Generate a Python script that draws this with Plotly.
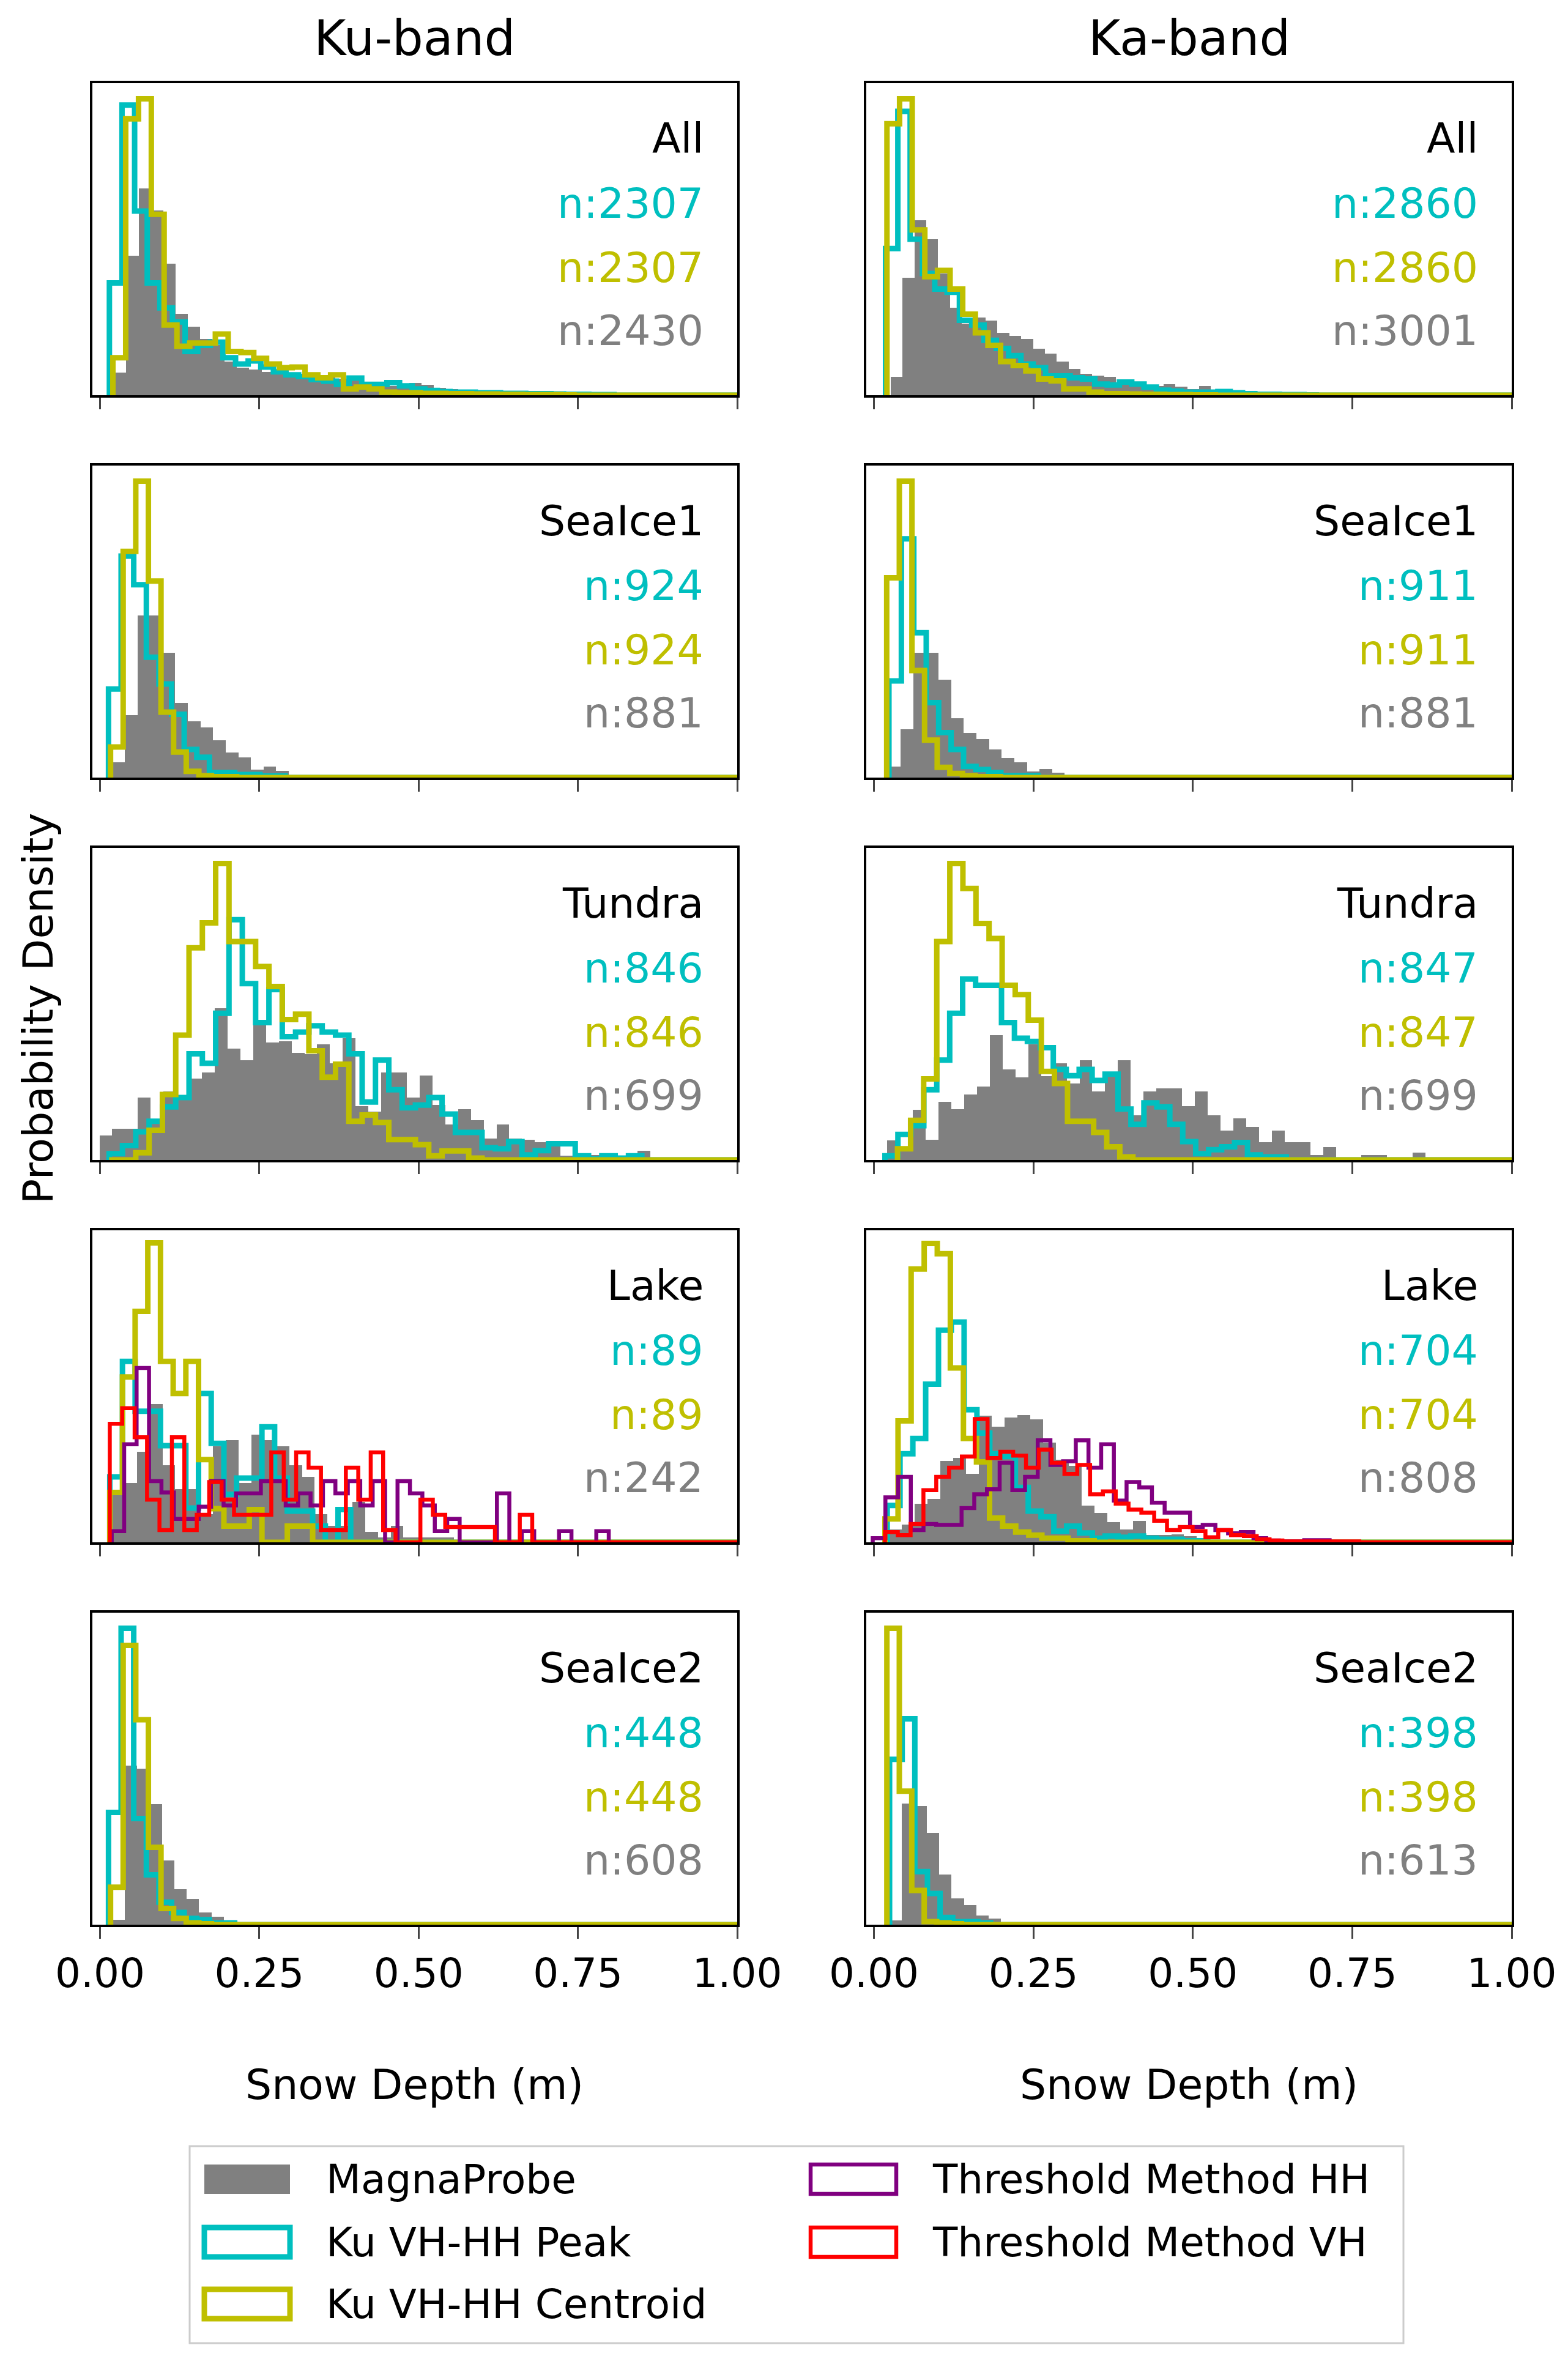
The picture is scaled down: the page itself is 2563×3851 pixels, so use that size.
import math
import plotly.graph_objects as go

# ---------------------------------------------------------------------------
# Histogram data: (first bin edge, bin width) and bin heights (relative density)
# ---------------------------------------------------------------------------
KU_ALL_GRAY_BINS = (0.0219, 0.0193)
KU_ALL_GRAY = [7.2, 44.8, 66.3, 59.2, 42.2, 26, 22, 18, 16, 10.8, 8.8, 8.2, 7.5, 7.2, 6.9, 6.5, 6.2,
               5.6, 5.2, 5, 4, 3.3, 3, 3.6, 3.9, 3.3, 2.3, 2, 1.8, 1.6, 1.3, 1.2, 1, 1, 0.8, 0.7,
               0.6, 0.6, 0.5, 0.4, 0.3, 0.3, 0.2, 0.2, 0.2, 0.1]
KU_ALL_PEAK_BINS = (0.0147, 0.0198)
KU_ALL_PEAK = [36, 93, 59, 36, 28, 23.5, 14, 16, 17, 12, 10, 11, 9, 7.5, 6.5, 6, 5, 4.5, 3.5, 5.5,
               3.5, 3.5, 4, 3, 2, 1.5, 1.2, 1, 1, 0.8, 0.8, 0.6, 0.6, 0.5, 0.5, 0.4, 0.3, 0.3, 0.2, 0.2]
KU_ALL_CENT_BINS = (0.0202, 0.0201)
KU_ALL_CENT = [12, 88.6, 95, 58, 22.5, 15.7, 16.7, 16.7, 19.6, 14, 13.7, 11.8, 10, 8.8, 9, 6.5, 5.6,
               6.5, 2, 2.6, 2, 1, 0.8, 0.8, 0.6, 0.6, 0.5, 0.5, 0.4, 0.4, 0.3, 0.3, 0.2, 0.2, 0.2, 0.1]

KA_ALL_GRAY_BINS = (0.0262, 0.0186)
KA_ALL_GRAY = [5.9, 37.6, 56, 50, 39, 28, 23, 25, 24, 20, 19, 18, 15, 13.4, 10.8, 8.5, 6.9, 6.2, 5.9,
               3.9, 3.5, 3, 3, 3.5, 2.8, 2, 3, 1.5, 1.2, 1, 0.8, 0.5, 0.5, 0.5, 0.8, 0.3, 0.2, 0.2, 0.1]
KA_ALL_PEAK_BINS = (0.0182, 0.0193)
KA_ALL_PEAK = [47, 91, 50, 39, 34, 33, 24, 22.5, 17.6, 15, 12.7, 10, 8.8, 6.2, 6.2, 5.6, 5.2, 3.6,
               3.3, 4.2, 3.6, 2.6, 1.6, 1.3, 1, 1, 1, 1.2, 0.8, 0.5, 0.3, 0.3, 0.2, 0.2, 0.1]
KA_ALL_CENT_BINS = (0.0204, 0.0198)
KA_ALL_CENT = [87, 95, 53, 38, 40, 34, 26, 20, 16, 10.8, 9.5, 7.8, 5.2, 4.6, 2, 2, 1, 0.5, 0.5,
               0.4, 0.3, 0.3, 0.2, 0.2, 0.1, 0.1]

KU_SI1_GRAY_BINS = (0.019, 0.0198)
KU_SI1_GRAY = [4.9, 20, 52, 52, 40, 24, 18, 16, 12, 8, 6.5, 2.6, 3.6, 2.2]
KU_SI1_PEAK_BINS = (0.0133, 0.0198)
KU_SI1_PEAK = [28.4, 71, 61.8, 38.6, 30, 20.3, 9, 6.5, 1.6, 1.6, 1, 1, 0.5, 0.5]
KU_SI1_CENT_BINS = (0.0165, 0.0198)
KU_SI1_CENT = [9.8, 72.5, 95, 63, 21, 8.2, 2, 0.6, 0.3, 0.3]

KA_SI1_GRAY_BINS = (0.022, 0.0198)
KA_SI1_GRAY = [3.6, 15.4, 40, 40, 31.4, 19, 14.4, 12.4, 9, 6.2, 4.9, 2, 2.8, 1.6]
KA_SI1_PEAK_BINS = (0.0235, 0.0195)
KA_SI1_PEAK = [31, 76.5, 46.4, 24, 14.4, 9, 3.6, 2.6, 1.6, 0.6, 0.6, 0.6]
KA_SI1_CENT_BINS = (0.020, 0.0198)
KA_SI1_CENT = [64, 95, 34.3, 12, 3.3, 1.3, 0.6, 0.3, 0.3]

KU_TUN_GRAY_BINS = (-0.0009, 0.0201)
KU_TUN_GRAY = [7.8, 10, 10, 20, 12.4, 22, 20, 26, 28, 48.7, 35.6, 32, 45, 37.6, 38, 34.3, 34, 37, 31,
               39, 17.3, 15.4, 28, 28, 20, 27, 17.6, 11.4, 16.3, 12.7, 6.9, 11.4, 6.9, 6.5, 5.6, 5.6,
               1.3, 1, 1.6, 1.6, 0.3, 0.6, 2.9, 0.3, 0.6, 0.6, 0.3, 0.6]
KU_TUN_PEAK_BINS = (0.0143, 0.0209)
KU_TUN_PEAK = [2, 4.6, 9, 12.4, 17, 20, 34, 31, 47, 77, 56.5, 44, 54.6, 39.5, 41, 43, 41, 40, 34, 18.6,
               32, 22.5, 16.7, 17.6, 20, 14.7, 8.8, 8.8, 3.9, 3.6, 5.9, 1.6, 3, 5.2, 5.2, 1.3, 0.3,
               1.3, 0.6, 1.3]
KU_TUN_CENT_BINS = (0.0143, 0.0209)
KU_TUN_CENT = [0, 0, 2.3, 9.5, 21, 40, 68, 76, 95, 70, 70, 62, 55.6, 45, 46.7, 35, 26.5, 30.7, 12.4,
               14.4, 12, 6.5, 6.5, 4.9, 1.3, 2.9, 2.9, 0.6]

KA_TUN_GRAY_BINS = (0.0208, 0.0201)
KA_TUN_GRAY = [6.2, 3.6, 16, 6.5, 18.6, 16.3, 21, 23.5, 40, 29, 26.5, 37, 26.8, 31, 24.5, 32, 22, 27.8,
               32, 14.4, 22, 23, 23, 17.3, 22, 14.4, 9.5, 13.4, 10.5, 5.6, 9.5, 5.6, 5.6, 1.6, 4.2,
               0.3, 0.3, 1.6, 1.6, 0.3, 0.3, 2.3]
KA_TUN_PEAK_BINS = (0.0173, 0.0203)
KA_TUN_PEAK = [1.3, 8.2, 11, 22.5, 32, 47, 58, 56, 56, 44, 39, 38, 36, 29, 27, 29, 25.5, 27.5, 16.3,
               11.4, 18.3, 17, 11.4, 5.9, 2, 3.3, 4.2, 5.6, 1.6, 1, 1]
KA_TUN_CENT_BINS = (0.037, 0.0205)
KA_TUN_CENT = [3.6, 12.7, 26, 70, 95, 87, 75.8, 71, 56, 53, 44.8, 28.4, 24.5, 12.4, 12.4, 8.8, 4.2, 1]

KU_LAKE_GRAY_BINS = (0.0184, 0.0199)
KU_LAKE_GRAY = [16.7, 19, 29, 44.4, 24.8, 17, 17, 9, 30.7, 32.7, 19, 34.6, 32.7, 30.7, 24.8, 21, 9,
                5.2, 5.2, 13, 3.3, 1.6, 5.2, 1.6, 1.6, 1.6, 1.6]
KU_LAKE_PEAK_BINS = (0.0153, 0.0199)
KU_LAKE_PEAK = [21, 58, 42, 42, 31, 31, 11, 47.7, 31.7, 15.4, 20.6, 20.6, 37, 20.6, 10, 10, 5.2, 0,
                10.5, 0]
KU_LAKE_CENT_BINS = (0.0153, 0.0199)
KU_LAKE_CENT = [16, 53, 74, 96, 58, 47.7, 58, 26.5, 10.8, 5.2, 5.2, 10.5, 0, 0, 5.2, 5.2]
KU_LAKE_HH_BINS = (0.0184, 0.0195)
KU_LAKE_HH = [3.6, 31.4, 55.9, 19.6, 16, 7.5, 7.5, 11.4, 19.6, 11.8, 15.7, 15.7, 19.6, 19.6, 11.8,
              15.7, 11.8, 19.6, 15.7, 19.6, 11.8, 19.6, 0, 19.6, 15.7, 11.8, 3.6, 7.5, 0, 0, 0, 15.7,
              0, 3.6, 0, 0, 3.6, 0, 0, 3.6]
KU_LAKE_VH_BINS = (0.0153, 0.0195)
KU_LAKE_VH = [38, 43, 33.7, 13.7, 3.9, 33.7, 3.9, 8.8, 19.3, 13.7, 8.8, 8.8, 8.8, 28.8, 13.7, 28.8,
              23.9, 3.9, 3.9, 23.9, 13.7, 28.8, 3.9, 0, 0, 13.7, 8.8, 4.9, 4.9, 4.9, 4.9, 0, 0, 8.8]

KA_LAKE_GRAY_BINS = (0.024, 0.0201)
KA_LAKE_GRAY = [4.2, 5.6, 12.4, 14, 26, 27, 22, 40.5, 37, 40, 40.8, 39.5, 32, 26.5, 24.5, 11.8, 9.5,
                6.5, 4.2, 6.9, 2.3, 2.3, 2.6, 2, 1, 0.6, 0.3, 0.3]
KA_LAKE_PEAK_BINS = (0.0208, 0.0201)
KA_LAKE_PEAK = [11.8, 28.4, 33.3, 50.7, 68, 70.6, 42.5, 35, 28.4, 27.5, 17.6, 10, 8.2, 3.6, 5.2, 3,
                1.3, 2, 1.6, 2, 1.3, 1, 1, 0.5, 0.5]
KA_LAKE_CENT_BINS = (0.0173, 0.0205)
KA_LAKE_CENT = [7.5, 38.9, 87.6, 95.8, 92.5, 55.9, 33.3, 25.8, 7.8, 5.2, 3.3, 2.3, 1.3, 1.3, 0.5, 0.5]
KA_LAKE_HH_BINS = (-0.0019, 0.0199)
KA_LAKE_HH = [1.3, 14.4, 21, 3.9, 5.9, 5.6, 5.6, 11, 15.4, 17, 25.5, 16.7, 21, 32.7, 24.8, 26, 32.7,
              23.9, 31.4, 13.4, 19.3, 17.6, 12.7, 9.5, 9.5, 4.9, 5.6, 3.9, 2.9, 3.3, 1.3, 0.6, 0.3,
              0.3, 0.7, 0.7]
KA_LAKE_VH_BINS = (0.0173, 0.0201)
KA_LAKE_VH = [3.3, 2.3, 5.9, 16.7, 21, 23.9, 27.5, 39.5, 27, 29, 27.8, 23.9, 29.7, 25.5, 21.9, 24.8,
              15.4, 16.3, 12.4, 10.5, 9.5, 6.9, 3.9, 4.9, 3.6, 1.6, 3.9, 2.3, 2, 1, 0.6, 0.3, 0.3,
              0.3, 0.3, 0.3, 0.3]

KU_SI2_GRAY_BINS = (0.019, 0.0195)
KU_SI2_GRAY = [1.6, 51, 50, 38.6, 20.6, 11.4, 8.2, 3.9, 2.6, 1.3, 0.6]
KU_SI2_PEAK_BINS = (0.0133, 0.0198)
KU_SI2_PEAK = [36, 95, 34, 16, 7.2, 3.9, 2, 1.6, 0.6, 0.6]
KU_SI2_CENT_BINS = (0.0165, 0.0198)
KU_SI2_CENT = [12, 89.5, 65.7, 24.8, 5.2, 2, 0.6, 0.3]

KA_SI2_GRAY_BINS = (0.024, 0.0195)
KA_SI2_GRAY = [1.3, 38.9, 38, 29.4, 16, 8.5, 6.2, 2.9, 2, 0.6]
KA_SI2_PEAK_BINS = (0.0245, 0.0198)
KA_SI2_PEAK = [53, 66, 17, 10, 2.3, 1, 1, 0.6]
KA_SI2_CENT_BINS = (0.0203, 0.0195)
KA_SI2_CENT = [95, 42.8, 11, 1, 0.6, 0.3]

REGIONS = ["All", "SeaIce1", "Tundra", "Lake", "SeaIce2"]
KU_COUNTS = [("2307", "2307", "2430"), ("924", "924", "881"), ("846", "846", "699"),
             ("89", "89", "242"), ("448", "448", "608")]
KA_COUNTS = [("2860", "2860", "3001"), ("911", "911", "881"), ("847", "847", "699"),
             ("704", "704", "808"), ("398", "398", "613")]
TICK_VALS = [0, 0.25, 0.5, 0.75, 1.0]
TICK_TEXT = ["0.00", "0.25", "0.50", "0.75", "1.00"]

# ---------------------------------------------------------------------------
# Styles
# ---------------------------------------------------------------------------
GRAY = "#808080"
CYAN = "#00BFBF"
YELLOW = "#BFBF00"
PURPLE = "#800080"
RED = "#FF0000"
FONT = "DejaVu Sans"
W, H = 2563, 3851

COL_X = [(143 / W, 1197 / W), (1408 / W, 2463 / W)]
ROW_Y = [(128, 638), (753, 1263), (1378, 1888), (2003, 2513), (2628, 3138)]
TEXT_Y = [0.822, 0.615, 0.409, 0.207]


def padded(bins, heights):
    start, width = bins
    n = max(len(heights), int(math.ceil((1.0 - start) / width)))
    return start, width, list(heights) + [0] * (n - len(heights))


def step_xy(bins, heights):
    start, width, h = padded(bins, heights)
    edges = [min(start + i * width, 1.0) for i in range(len(h) + 1)]
    xs = [edges[0]] + edges[:-1] + [edges[-1]]
    ys = [0] + h + [0]
    return xs, ys


panels = [
    [(KU_ALL_GRAY_BINS, KU_ALL_GRAY), (KU_ALL_PEAK_BINS, KU_ALL_PEAK), (KU_ALL_CENT_BINS, KU_ALL_CENT), None],
    [(KA_ALL_GRAY_BINS, KA_ALL_GRAY), (KA_ALL_PEAK_BINS, KA_ALL_PEAK), (KA_ALL_CENT_BINS, KA_ALL_CENT), None],
    [(KU_SI1_GRAY_BINS, KU_SI1_GRAY), (KU_SI1_PEAK_BINS, KU_SI1_PEAK), (KU_SI1_CENT_BINS, KU_SI1_CENT), None],
    [(KA_SI1_GRAY_BINS, KA_SI1_GRAY), (KA_SI1_PEAK_BINS, KA_SI1_PEAK), (KA_SI1_CENT_BINS, KA_SI1_CENT), None],
    [(KU_TUN_GRAY_BINS, KU_TUN_GRAY), (KU_TUN_PEAK_BINS, KU_TUN_PEAK), (KU_TUN_CENT_BINS, KU_TUN_CENT), None],
    [(KA_TUN_GRAY_BINS, KA_TUN_GRAY), (KA_TUN_PEAK_BINS, KA_TUN_PEAK), (KA_TUN_CENT_BINS, KA_TUN_CENT), None],
    [(KU_LAKE_GRAY_BINS, KU_LAKE_GRAY), (KU_LAKE_PEAK_BINS, KU_LAKE_PEAK), (KU_LAKE_CENT_BINS, KU_LAKE_CENT),
     ((KU_LAKE_HH_BINS, KU_LAKE_HH), (KU_LAKE_VH_BINS, KU_LAKE_VH))],
    [(KA_LAKE_GRAY_BINS, KA_LAKE_GRAY), (KA_LAKE_PEAK_BINS, KA_LAKE_PEAK), (KA_LAKE_CENT_BINS, KA_LAKE_CENT),
     ((KA_LAKE_HH_BINS, KA_LAKE_HH), (KA_LAKE_VH_BINS, KA_LAKE_VH))],
    [(KU_SI2_GRAY_BINS, KU_SI2_GRAY), (KU_SI2_PEAK_BINS, KU_SI2_PEAK), (KU_SI2_CENT_BINS, KU_SI2_CENT), None],
    [(KA_SI2_GRAY_BINS, KA_SI2_GRAY), (KA_SI2_PEAK_BINS, KA_SI2_PEAK), (KA_SI2_CENT_BINS, KA_SI2_CENT), None],
]

fig = go.Figure()
annotations = []
layout_axes = {}

for idx, (gray, peak, cent, thresh) in enumerate(panels):
    row, col = divmod(idx, 2)
    k = idx + 1
    xa = "x" if k == 1 else f"x{k}"
    ya = "y" if k == 1 else f"y{k}"

    start, width, h = padded(*gray)
    fig.add_trace(go.Bar(
        x=[start + (i + 0.5) * width for i in range(len(h))], y=h, width=width,
        marker=dict(color=GRAY, line=dict(width=0)), xaxis=xa, yaxis=ya, showlegend=False,
    ))
    for series, colour, lw in [(peak, CYAN, 9), (cent, YELLOW, 9)] + (
            [(thresh[0], PURPLE, 6.5), (thresh[1], RED, 6.5)] if thresh else []):
        xs, ys = step_xy(*series)
        fig.add_trace(go.Scatter(
            x=xs, y=ys, mode="lines", line=dict(color=colour, width=lw, shape="hv"),
            xaxis=xa, yaxis=ya, showlegend=False,
        ))

    y_top, y_bot = ROW_Y[row]
    axis_common = dict(showline=True, mirror=True, linecolor="black", linewidth=3.5,
                       showgrid=False, zeroline=False, automargin=False)
    layout_axes[f"xaxis{k if k > 1 else ''}"] = dict(
        domain=list(COL_X[col]), anchor=ya, range=[-0.012, 1.0],
        tickvals=TICK_VALS, ticktext=TICK_TEXT, ticks="outside", ticklen=19, tickwidth=3,
        showticklabels=(row == 4), tickfont=dict(size=66, color="black", family=FONT),
        **axis_common,
    )
    layout_axes[f"yaxis{k if k > 1 else ''}"] = dict(
        domain=[1 - y_bot / H, 1 - y_top / H], anchor=xa, range=[0, 100],
        showticklabels=False, ticks="", **axis_common,
    )

    counts = (KU_COUNTS if col == 0 else KA_COUNTS)[row]
    xref = f"{xa} domain"
    yref = f"{ya} domain"
    for text, colour, yy in zip([REGIONS[row], "n:" + counts[0], "n:" + counts[1], "n:" + counts[2]],
                                ["black", CYAN, YELLOW, GRAY], TEXT_Y):
        annotations.append(dict(
            text=text, x=0.95, y=yy, xref=xref, yref=yref, xanchor="right", yanchor="middle",
            showarrow=False, font=dict(size=68, color=colour, family=FONT),
        ))

# column titles and axis labels
for col, title in enumerate(["Ku-band", "Ka-band"]):
    cx = (COL_X[col][0] + COL_X[col][1]) / 2
    annotations.append(dict(text=title, x=cx, y=1 - 54 / H, xref="paper", yref="paper",
                            showarrow=False, xanchor="center", yanchor="middle",
                            font=dict(size=80, color="black", family=FONT)))
    annotations.append(dict(text="Snow Depth (m)", x=cx, y=1 - 3399 / H, xref="paper", yref="paper",
                            showarrow=False, xanchor="center", yanchor="middle",
                            font=dict(size=68, color="black", family=FONT)))
annotations.append(dict(text="Probability Density", x=54 / W, y=1 - 1640 / H, xref="paper",
                        yref="paper", showarrow=False, textangle=-90, xanchor="center",
                        yanchor="middle", font=dict(size=68, color="black", family=FONT)))

# legend drawn by hand to match the two-column box
shapes = [dict(type="rect", xref="paper", yref="paper", x0=302 / W, x1=2286 / W,
               y0=1 - 3822 / H, y1=1 - 3500 / H, line=dict(color="#CCCCCC", width=3),
               fillcolor="white")]
legend_items = [
    ("MagnaProbe", GRAY, None, 326, 3554),
    ("Ku VH-HH Peak", None, (CYAN, 9), 326, 3657),
    ("Ku VH-HH Centroid", None, (YELLOW, 9), 326, 3758),
    ("Threshold Method HH", None, (PURPLE, 6.5), 1317, 3554),
    ("Threshold Method VH", None, (RED, 6.5), 1317, 3657),
]
for label, fill, outline, px, py in legend_items:
    shapes.append(dict(
        type="rect", xref="paper", yref="paper", x0=px / W, x1=(px + 140) / W,
        y0=1 - (py + 24) / H, y1=1 - (py - 24) / H,
        fillcolor=fill if fill else "rgba(0,0,0,0)",
        line=dict(color=outline[0], width=outline[1]) if outline else dict(width=0),
    ))
    annotations.append(dict(text=label, x=(px + 197) / W, y=1 - py / H, xref="paper", yref="paper",
                            xanchor="left", yanchor="middle", showarrow=False,
                            font=dict(size=66, color="black", family=FONT)))

fig.update_layout(
    width=W, height=H, margin=dict(l=0, r=0, t=0, b=0, autoexpand=False),
    paper_bgcolor="white", plot_bgcolor="white", bargap=0, barmode="overlay",
    font=dict(family=FONT, color="black"),
    annotations=annotations, shapes=shapes, showlegend=False,
    **layout_axes,
)

fig.write_html("out.html")
